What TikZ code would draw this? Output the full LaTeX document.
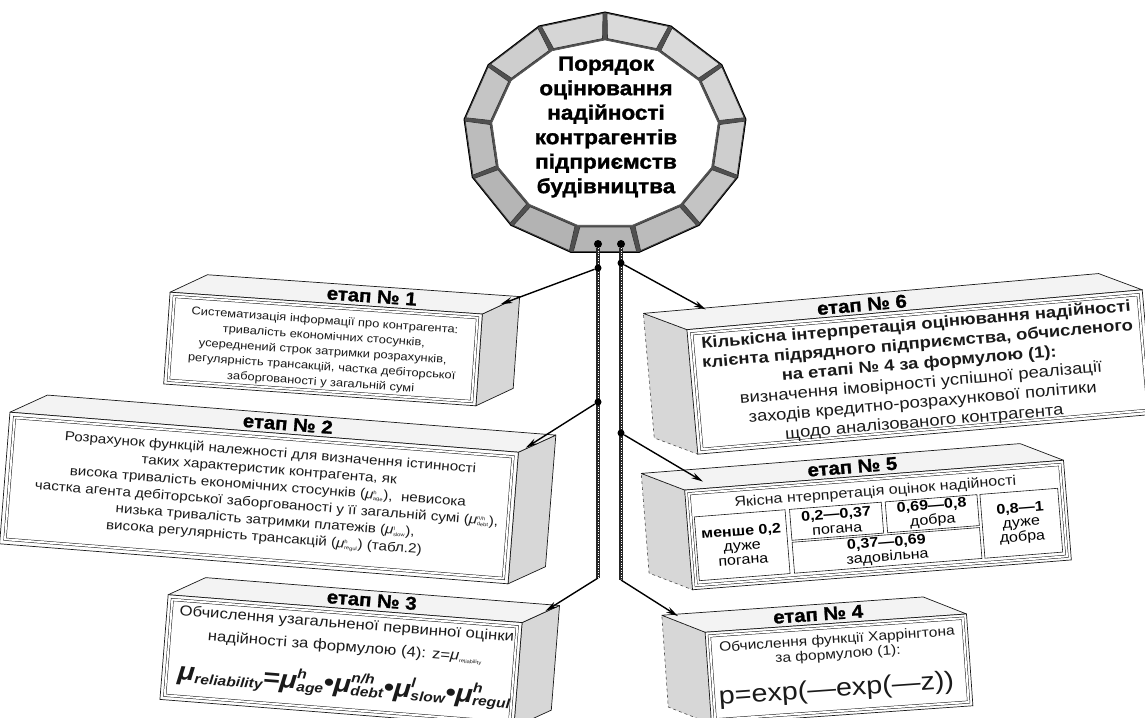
\documentclass[tikz,border=0pt]{standalone}
\usepackage{fontspec}
\setmainfont{Liberation Sans}[FakeStretch=1.15]
\newfontfamily\heavyfont{Liberation Sans}[FakeStretch=1.1,BoldFeatures={FakeBold=1.4}]
\usepackage{xcolor}
\definecolor{cInk}{HTML}{1A1A1A}
\definecolor{cRing}{HTML}{505050}
\definecolor{cSide}{HTML}{D7D7D7}
\definecolor{cTop}{HTML}{F3F3F3}
\usepackage{tikz}
\usetikzlibrary{arrows.meta}
\newcommand{\mus}[2]{\textit{μ}\rlap{\textsuperscript{\tiny #1}}\textsubscript{\tiny #2}}
\newcommand{\mub}[2]{μ\rlap{\raisebox{10pt}{\fontsize{13.5}{14}\selectfont #1}}\raisebox{-3pt}{\fontsize{13.5}{14}\selectfont #2}}
\tikzset{
  ring-base/.style={fill=cRing,draw=black,line width=1pt},
  ring-hole/.style={fill=white,draw=black!70,line width=0.6pt},
  ring-seg/.style={draw=black!80,line width=0.6pt},
  ring-title/.style={font=\heavyfont\fontsize{20.5}{24.5}\selectfont\bfseries,align=center,inner sep=0pt},
  stage-front/.style={fill=white,draw=cInk,line width=0.7pt},
  stage-frame/.style={draw=cInk,line width=0.5pt,double=white,double distance=2pt},
  stage-top/.style={fill=cTop,draw=cInk,line width=0.7pt,line join=round},
  stage-side/.style={fill=cSide,draw=cInk,line width=0.7pt},
  stage-side-dash/.style={fill=cSide,draw=black!70,line width=0.6pt,dashed},
  stage-title/.style={font=\heavyfont\fontsize{18.5}{18.5}\selectfont\bfseries,inner sep=0pt},
  stage-text/.style={align=center,inner sep=0pt,text=cInk},
  cell/.style={draw=cInk,line width=0.6pt,align=center,inner sep=0pt,
    font=\fontsize{14}{14.5}\selectfont},
  arrow/.style={-{Stealth[length=12pt,width=6pt]},line width=1.4pt,draw=black},
  trunk/.style={line width=3.4pt,draw=black!85,
    postaction={draw=white,line width=0.8pt,dash pattern=on 0.8pt off 1.6pt}},
  dot/.style={circle,fill=black,inner sep=0pt,minimum size=7pt},
}

\begin{document}
\begin{tikzpicture}[x=1pt,y=-1pt]
  \useasboundingbox (0,0) rectangle (1145,717);
  \fill[white] (0,0) rectangle (1145,717);

  % ring of 13 segments
  \begin{scope}[shift={(605,134)},y=1pt]
    \filldraw[ring-base] ({142*cos(90)},{122*sin(90)})
      \foreach \k in {1,...,12} { -- ({142*cos(90+\k*360/13)},{122*sin(90+\k*360/13)}) } -- cycle;
    \filldraw[ring-hole] ({114*cos(90)},{94*sin(90)})
      \foreach \k in {1,...,12} { -- ({114*cos(90+\k*360/13)},{94*sin(90+\k*360/13)}) } -- cycle;
    \foreach \k in {0,...,12} {
      \pgfmathsetmacro\ang{270+\k*360/13}
      \pgfmathsetmacro\tone{44-14*sin(\ang)-7*cos(\ang)}
      \filldraw[ring-seg,fill=gray!\tone]
        ({140.5*cos(\ang-13)},{120.5*sin(\ang-13)}) -- ({140.5*cos(\ang+13)},{120.5*sin(\ang+13)})
        -- ({115.5*cos(\ang+12.6)},{95.5*sin(\ang+12.6)}) -- ({115.5*cos(\ang-12.6)},{95.5*sin(\ang-12.6)}) -- cycle;
    }
  \end{scope}
  \node[ring-title] (head) at (606,127)
    {Порядок\\оцінювання\\надійності\\контрагентів\\підприємств\\будівництва};

  % stage 1
  \begin{scope}[shift={(323,349)},rotate=-4,transform shape]
    \filldraw[stage-side] (156.5,-46) -- ++(36,-20) -- ++(0,92) -- (156.5,46) -- cycle;
    \filldraw[stage-top] (-156.5,-46) -- ++(36,-20) -- ++(313,0) -- (156.5,-46) -- cycle;
    \filldraw[stage-front] (-156.5,-46) rectangle (156.5,46);
    \draw[stage-frame] (-152,-42) rectangle (152,42);
    \node[stage-title] (t1) at (45,-56) {етап № 1};
    \node[stage-text,font=\fontsize{11.2}{15.4}\selectfont] (e1) at (0,3)
      {Систематизація інформації про контрагента:\\
       тривалість економічних стосунків,\\
       усереднений строк затримки розрахунків,\\
       регулярність трансакцій, частка дебіторської\\
       заборгованості у загальній сумі};
    \coordinate (in1) at (174,-57);
  \end{scope}

  % stage 2
  \begin{scope}[shift={(259,498)},rotate=-4.5,transform shape]
    \filldraw[stage-side] (255,-66) -- ++(36,-20) -- ++(0,132) -- (255,66) -- cycle;
    \filldraw[stage-top] (-255,-66) -- ++(36,-20) -- ++(510,0) -- (255,-66) -- cycle;
    \filldraw[stage-front] (-255,-66) rectangle (255,66);
    \draw[stage-frame] (-250,-61) rectangle (250,61);
    \node[stage-title] (t2) at (23,-76) {етап № 2};
    \node[stage-text,font=\fontsize{13.2}{17}\selectfont] (e2) at (8,-3)
      {Розрахунок функцій належності для визначення істинності\\
       таких характеристик контрагента, як\\
       висока тривалість економічних стосунків (\mus{h}{age}),\ \ невисока\\
       частка агента дебіторської заборгованості у її загальній сумі (\mus{n/h}{debt}),\\
       низька тривалість затримки платежів (\mus{l}{slow}),\\
       висока регулярність трансакцій (\mus{h}{regul}) (табл.2)};
    \coordinate (in2) at (262,-71);
  \end{scope}

  % stage 3
  \begin{scope}[shift={(341,661)},rotate=-4.5,transform shape]
    \filldraw[stage-side] (177.5,-52.5) -- ++(36,-20) -- ++(0,105) -- (177.5,52.5) -- cycle;
    \filldraw[stage-top] (-177.5,-52.5) -- ++(36,-20) -- ++(355,0) -- (177.5,-52.5) -- cycle;
    \filldraw[stage-front] (-177.5,-52.5) rectangle (177.5,52.5);
    \draw[stage-frame] (-173,-48) rectangle (173,48);
    \node[stage-title] (t3) at (26,-63) {етап № 3};
    \node[stage-text,font=\fontsize{14.5}{23}\selectfont] (e3) at (3,-25)
      {Обчислення узагальненої первинної оцінки\\
       надійності за формулою (4): z=\textit{μ}\textsubscript{\tiny reliability}};
    \node[stage-text,font=\fontsize{25}{28}\selectfont\bfseries\itshape] (f3) at (5,24)
      {\mub{}{reliability}=\mub{h}{age}•\mub{n/h}{debt}•\mub{l}{slow}•\mub{h}{regul}};
    \coordinate (in3) at (200,-66);
  \end{scope}

  % stage 6
  \begin{scope}[shift={(920,372)},rotate=5,transform shape]
    \filldraw[stage-side-dash] (-228.5,-62.5) -- ++(-42,-20) -- ++(0,125) -- (-228.5,62.5) -- cycle;
    \filldraw[stage-top] (-228.5,-62.5) -- ++(-42,-20) -- ++(457,0) -- (228.5,-62.5) -- cycle;
    \filldraw[stage-front] (-228.5,-62.5) rectangle (228.5,62.5);
    \draw[stage-frame] (-224,-58) rectangle (224,58);
    \node[stage-title] (t6) at (-52,-72) {етап № 6};
    \node[stage-text,font=\fontsize{16}{19.5}\selectfont] (e6) at (0,2)
      {\textbf{Кількісна інтерпретація оцінювання надійності}\\
       \textbf{клієнта підрядного підприємства, обчисленого}\\
       \textbf{на етапі № 4 за формулою (1):}\\
       визначення імовірності успішної реалізації\\
       заходів кредитно-розрахункової політики\\
       щодо аналізованого контрагента};
    \coordinate (in6) at (-208,-81);
  \end{scope}

  % stage 5
  \begin{scope}[shift={(878,525)},rotate=4.5,transform shape]
    \filldraw[stage-side-dash] (-190,-50) -- ++(-42,-20) -- ++(0,100) -- (-190,50) -- cycle;
    \filldraw[stage-top] (-190,-50) -- ++(-42,-20) -- ++(380,0) -- (190,-50) -- cycle;
    \filldraw[stage-front] (-190,-50) rectangle (190,50);
    \draw[stage-frame] (-186,-46) rectangle (186,46);
    \node[stage-title] (t5) at (-21,-60) {етап № 5};
    \node[stage-text,font=\fontsize{14}{14}\selectfont] (e5) at (0,-33)
      {Якісна нтерпретація оцінок надійності};
    \node[cell,minimum width=91,minimum height=64] (c-bad2) at (-137,9.5)
      {\textbf{менше 0,2}\\дуже\\погана};
    \node[cell,minimum width=92,minimum height=31] (c-bad) at (-41,-7)
      {\textbf{0,2—0,37}\\погана};
    \node[cell,minimum width=92,minimum height=31] (c-good) at (55,-7)
      {\textbf{0,69—0,8}\\добра};
    \node[cell,minimum width=188,minimum height=31] (c-fair) at (7,26)
      {\textbf{0,37—0,69}\\задовільна};
    \node[cell,minimum width=78,minimum height=64] (c-good2) at (143,9.5)
      {\textbf{0,8—1}\\дуже\\добра};
    \coordinate (in5) at (-171,-57);
  \end{scope}

  % stage 4
  \begin{scope}[shift={(839,669)},rotate=4,transform shape]
    \filldraw[stage-side-dash] (-131,-46) -- ++(-42,-20) -- ++(0,92) -- (-131,46) -- cycle;
    \filldraw[stage-top] (-131,-46) -- ++(-42,-20) -- ++(262,0) -- (131,-46) -- cycle;
    \filldraw[stage-front] (-131,-46) rectangle (131,46);
    \draw[stage-frame] (-127,-42) rectangle (127,42);
    \node[stage-title] (t4) at (-17,-56) {етап № 4};
    \node[stage-text,font=\fontsize{13.5}{15}\selectfont] (e4) at (0,-21.5)
      {Обчислення функції Харрінгтона\\за формулою (1):};
    \node[stage-text,font=\fontsize{25}{28}\selectfont] (f4) at (-4,21) {p=exp(—exp(—z))};
    \coordinate (in4) at (-157,-64);
  \end{scope}

  % trunks and links
  \node[dot,minimum size=8pt] (sl) at (598,244) {};
  \node[dot,minimum size=8pt] (sr) at (621,244) {};
  \coordinate (bl) at (598,578);
  \coordinate (br) at (621,580);
  \draw[trunk] (sl) -- (bl);
  \draw[trunk] (sr) -- (br);
  \node[dot] (jl1) at (598,268) {};
  \node[dot] (jl2) at (598,402) {};
  \node[dot] (jr1) at (621,263) {};
  \node[dot] (jr2) at (621,433) {};
  \draw[arrow] (jl1) -- (in1);
  \draw[arrow] (jl2) -- (in2);
  \draw[arrow] (bl) -- (in3);
  \draw[arrow] (jr1) -- (in6);
  \draw[arrow] (jr2) -- (in5);
  \draw[arrow] (br) -- (in4);
\end{tikzpicture}
\end{document}
